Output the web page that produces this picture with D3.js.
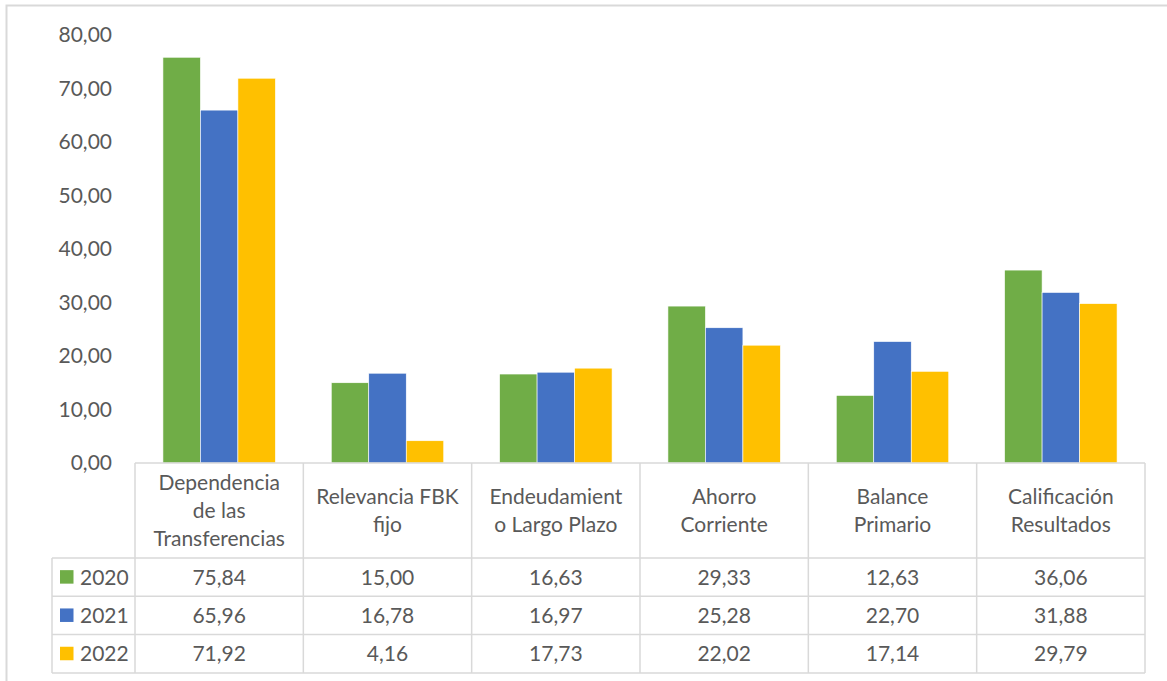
<!DOCTYPE html>
<html>
<head>
<meta charset="utf-8">
<script src="https://cdn.jsdelivr.net/npm/d3@7"></script>
<style>
  html, body { margin: 0; padding: 0; background: #ffffff; }
  svg { display: block; font-family: "Lato", "Open Sans", sans-serif; }
</style>
</head>
<body>
<svg id="chart" width="1167" height="681"></svg>
<script>
// ---- data ----
const categories = [
  "Dependencia de las Transferencias",
  "Relevancia FBK fijo",
  "Endeudamiento Largo Plazo",
  "Ahorro Corriente",
  "Balance Primario",
  "Calificación Resultados"
];
const categoryLines = [
  ["Dependencia", "de las", "Transferencias"],
  ["Relevancia FBK", "fijo"],
  ["Endeudamient", "o Largo Plazo"],
  ["Ahorro", "Corriente"],
  ["Balance", "Primario"],
  ["Calificación", "Resultados"]
];
const years = ["2020", "2021", "2022"];
const values2020 = [75.84, 15.00, 16.63, 29.33, 12.63, 36.06];
const values2021 = [65.96, 16.78, 16.97, 25.28, 22.70, 31.88];
const values2022 = [71.92, 4.16, 17.73, 22.02, 17.14, 29.79];
const yTicks = [0, 10, 20, 30, 40, 50, 60, 70, 80];
const colors = ["#70AD47", "#4472C4", "#FFC000"];

const series = [values2020, values2021, values2022];

// ---- layout ----
const svg = d3.select("#chart");
const textColor = "#595959";
const gridColor = "#d9d9d9";
const fontSize = 21;

const plotLeft = 135, plotRight = 1145;
const yZero = 463, yTop = 35;
const headerBottom = 558;
const rowH = 38.3;
const legendLeft = 52;

const locale = d3.formatLocale({ decimal: ",", thousands: ".", grouping: [3], currency: ["", ""] });
const fmt = locale.format(".2f");

const x = d3.scaleBand().domain(categories).range([plotLeft, plotRight]).paddingInner(0).paddingOuter(0);
const xs = d3.scaleBand().domain(years).range([0, x.bandwidth()]).paddingInner(0).paddingOuter(0.745);
const y = d3.scaleLinear().domain([0, 80]).range([yZero, yTop]);

// outer border
svg.append("rect")
  .attr("x", 6.5).attr("y", 5.5).attr("width", 1200).attr("height", 720)
  .attr("fill", "#ffffff").attr("stroke", gridColor).attr("stroke-width", 2);

// y axis labels (no line)
const yAxis = d3.axisLeft(y).tickValues(yTicks).tickFormat(fmt).tickSize(0).tickPadding(0);
const yG = svg.append("g").attr("transform", "translate(112,0)").call(yAxis);
yG.select(".domain").remove();
yG.selectAll("text")
  .attr("fill", textColor)
  .style("font-size", fontSize + "px")
  .style("font-family", "Lato, 'Open Sans', sans-serif");

// bars
const groups = svg.append("g").selectAll("g")
  .data(categories)
  .join("g")
  .attr("transform", d => `translate(${x(d)},0)`);

groups.selectAll("rect")
  .data((c, i) => years.map((yr, k) => ({ yr, k, v: series[k][i] })))
  .join("rect")
  .attr("x", d => xs(d.yr))
  .attr("width", xs.bandwidth())
  .attr("y", d => y(d.v))
  .attr("height", d => yZero - y(d.v))
  .attr("fill", d => colors[d.k])
  .attr("stroke", "#ffffff")
  .attr("stroke-width", 0.6);

// data table
const table = svg.append("g");
const rowsTop = headerBottom;
const tableBottom = rowsTop + rowH * years.length;

// horizontal lines
table.append("line").attr("x1", plotLeft).attr("x2", plotRight).attr("y1", yZero).attr("y2", yZero);
for (let r = 0; r <= years.length; r++) {
  const yy = rowsTop + r * rowH;
  table.append("line").attr("x1", legendLeft).attr("x2", plotRight).attr("y1", yy).attr("y2", yy);
}
// vertical lines
table.append("line").attr("x1", legendLeft).attr("x2", legendLeft).attr("y1", rowsTop).attr("y2", tableBottom);
const vx = categories.map(c => x(c)).concat([plotRight]);
vx.forEach(v => {
  table.append("line").attr("x1", v).attr("x2", v).attr("y1", yZero).attr("y2", tableBottom);
});
table.selectAll("line").attr("stroke", gridColor).attr("stroke-width", 1.5);

// header text
const headerCenter = (yZero + headerBottom) / 2;
const lineH = 28;
categories.forEach((c, i) => {
  const lines = categoryLines[i];
  const cx = x(c) + x.bandwidth() / 2;
  const t = table.append("text")
    .attr("text-anchor", "middle")
    .attr("fill", textColor)
    .style("font-size", fontSize + "px");
  lines.forEach((ln, j) => {
    t.append("tspan")
      .attr("x", cx)
      .attr("y", headerCenter - (lines.length - 1) * lineH / 2 + j * lineH + 7)
      .text(ln);
  });
});

// rows
years.forEach((yr, r) => {
  const cy = rowsTop + r * rowH + rowH / 2;
  table.append("rect")
    .attr("x", 60).attr("y", cy - 7).attr("width", 13.5).attr("height", 13.5)
    .attr("fill", colors[r]);
  table.append("text")
    .attr("x", 80).attr("y", cy + 7.5)
    .attr("fill", textColor)
    .style("font-size", fontSize + "px")
    .text(yr);
  categories.forEach((c, i) => {
    table.append("text")
      .attr("x", x(c) + x.bandwidth() / 2)
      .attr("y", cy + 7.5)
      .attr("text-anchor", "middle")
      .attr("fill", textColor)
      .style("font-size", fontSize + "px")
      .text(fmt(series[r][i]));
  });
});
</script>
</body>
</html>
